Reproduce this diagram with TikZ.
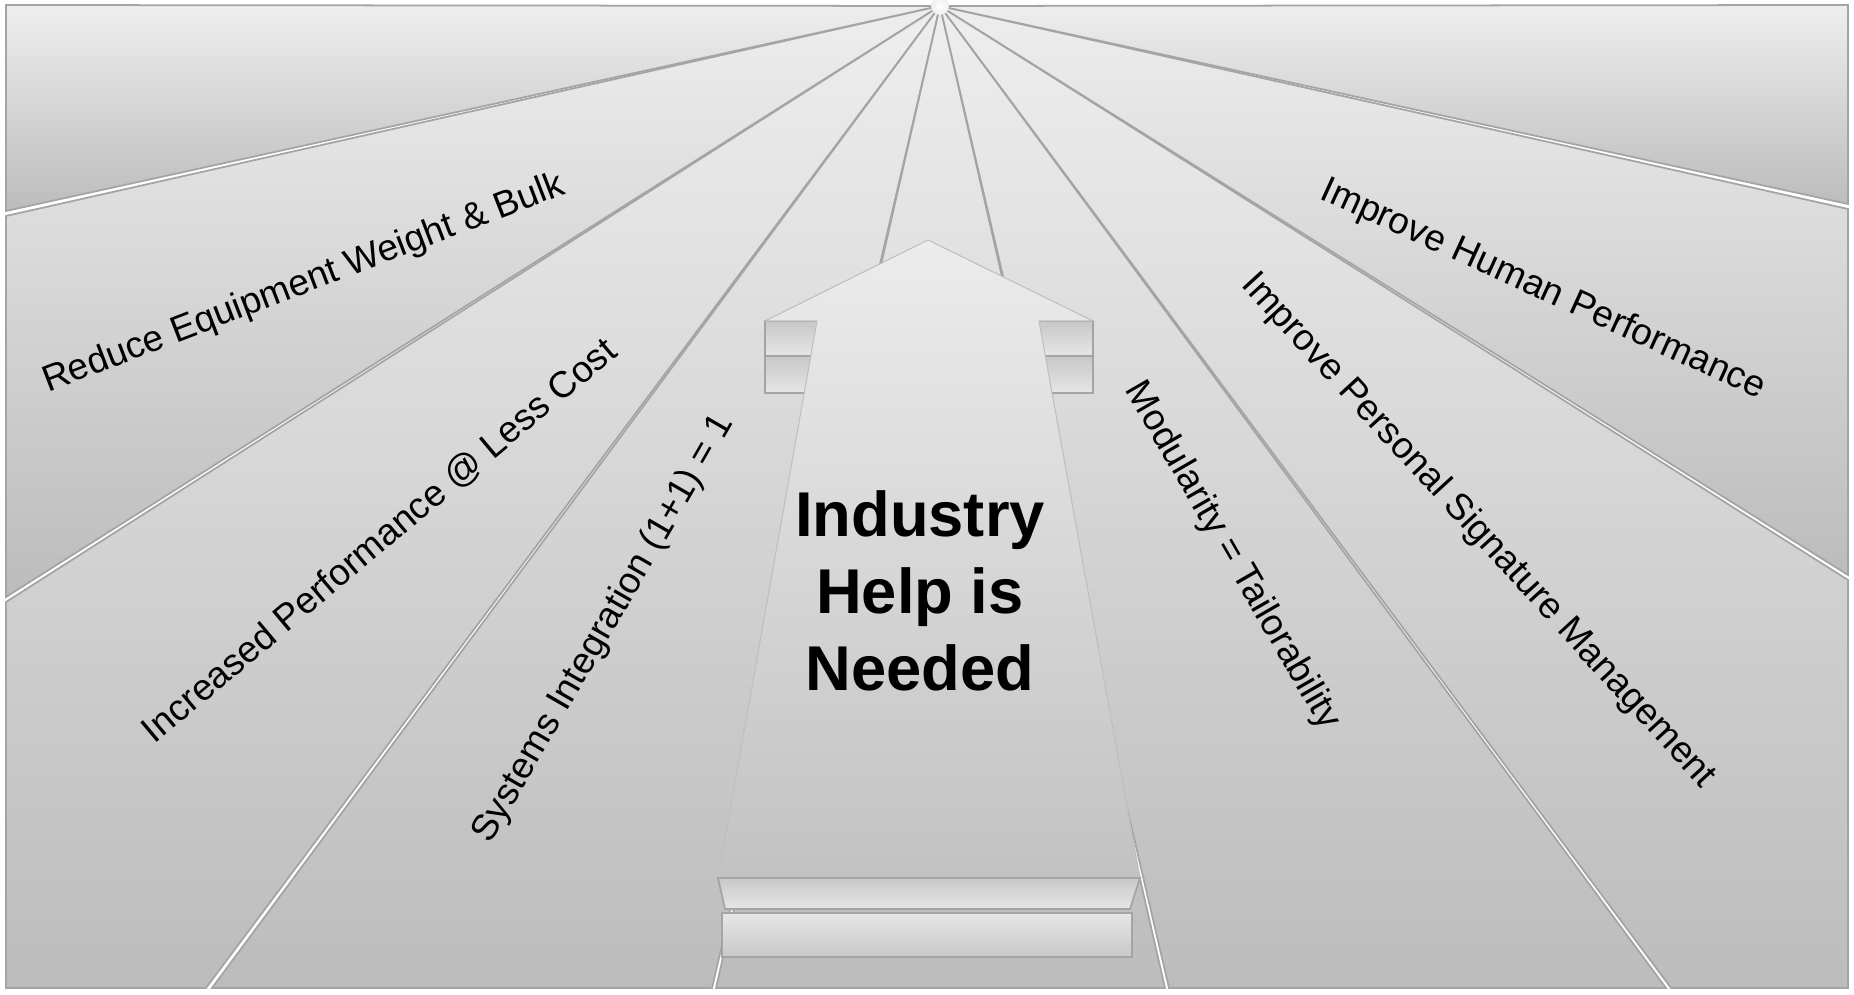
\documentclass[tikz,border=0pt]{standalone}
\usepackage{fontspec}
\setmainfont{Liberation Sans}
\definecolor{fantop}{HTML}{EEEEEE}
\definecolor{fanbottom}{HTML}{BCBCBC}
\definecolor{fanedge}{HTML}{A4A4A4}
\definecolor{arrowtop}{HTML}{ECECEC}
\definecolor{arrowbottom}{HTML}{C2C2C2}
\definecolor{stepdark}{HTML}{C8C8C8}
\definecolor{steplight}{HTML}{E6E6E6}

\begin{document}
\begin{tikzpicture}[x=0.01cm,y=-0.01cm,
		wedge/.style={top color=fantop,bottom color=fanbottom,draw=fanedge,line width=0.5pt},
		stepbar/.style={top color=stepdark,bottom color=steplight,draw=fanedge,line width=0.4pt},
		basebar/.style={top color=steplight,bottom color=stepdark,draw=fanedge,line width=0.4pt},
		aim/.style={font=\fontsize{10.5}{12}\selectfont,inner sep=0pt}]
	\useasboundingbox[fill=white] (0,0) rectangle (1854,995);
	\coordinate (apex) at (940,6);
	% left wedges
	\path[wedge] (apex) -- (6,5) -- (6,211) -- cycle;
	\path[wedge] (apex) -- (6,216) -- (6,597) -- cycle;
	\path[wedge] (apex) -- (6,602) -- (6,988) -- (206,988) -- cycle;
	\path[wedge] (apex) -- (212,988) -- (712,988) -- cycle;
	% centre wedge
	\path[wedge] (apex) -- (716,988) -- (1165,988) -- cycle;
	% right wedges
	\path[wedge] (apex) -- (1169,988) -- (1666,988) -- cycle;
	\path[wedge] (apex) -- (1671,988) -- (1848,988) -- (1848,580) -- cycle;
	\path[wedge] (apex) -- (1848,575) -- (1848,209) -- cycle;
	\path[wedge] (apex) -- (1848,204) -- (1848,5) -- cycle;
	\shade[inner color=white,outer color=fantop] (apex) circle (9);
	% steps behind the arrow head
	\path[stepbar] (765,321) rectangle (830,356);
	\path[stepbar] (765,356) rectangle (830,393);
	\path[stepbar] (1030,321) rectangle (1093,356);
	\path[stepbar] (1030,356) rectangle (1093,393);
	% arrow
	\path[top color=arrowtop,bottom color=arrowbottom,draw=fanedge!70,line width=0.3pt]
		(928,240) -- (1093,321) -- (1039,321) -- (1140,878)
		-- (718,878) -- (817,321) -- (765,321) -- cycle;
	% base bars
	\path[top color=stepdark,bottom color=steplight,draw=fanedge,line width=0.5pt]
		(718,878) -- (1140,878) -- (1130,909) -- (725,909) -- cycle;
	\path[basebar] (722,913) rectangle (1132,957);
	% labels
	\node[aim,rotate=21] (reduce) at (304,284) {Reduce Equipment Weight \& Bulk};
	\node[aim,rotate=40] (perform) at (380,541) {Increased Performance @ Less Cost};
	\node[aim,rotate=60] (integr) at (604,629) {Systems Integration (1+1) = 1};
	\node[aim,rotate=-60] (modul) at (1232,556) {Modularity = Tailorability};
	\node[aim,rotate=-47.5] (signat) at (1478,531) {Improve Personal Signature Management};
	\node[aim,rotate=-24.5] (human) at (1543,290) {Improve Human Performance};
	\node[font=\bfseries\fontsize{18}{22}\selectfont,align=center] (industry) at (920,591)
		{Industry\\Help is\\Needed};
\end{tikzpicture}
\end{document}
